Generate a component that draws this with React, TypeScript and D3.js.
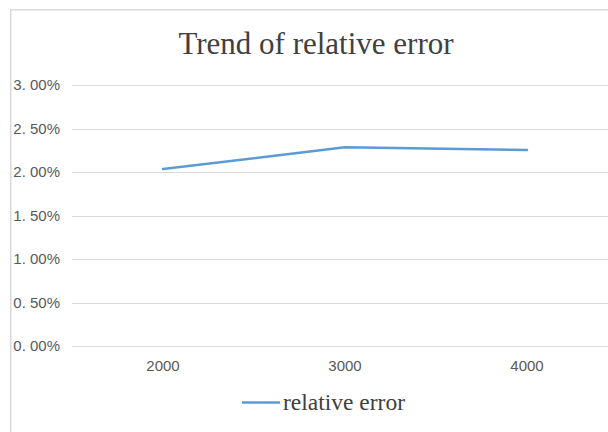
import React from "react";
import * as d3 from "d3";

const categories = ["2000", "3000", "4000"];
const relativeError = [0.02034, 0.02284, 0.02253];
const yTicks = [0, 0.005, 0.01, 0.015, 0.02, 0.025, 0.03];
const seriesName = "relative error";
const title = "Trend of relative error";

const W = 608;
const H = 432;

export default function App() {
  const x = d3.scaleBand<string>().domain(categories).range([72, 618]);
  const y = d3.scaleLinear().domain([0, 0.03]).range([346, 85]);
  const cx = (c: string) => (x(c) ?? 0) + x.bandwidth() / 2;
  const line = d3
    .line<number>()
    .x((_, i) => cx(categories[i]))
    .y((d) => y(d));
  const fmt = (v: number) => (v * 100).toFixed(2).replace(".", ". ") + "%";
  const grey = "#595959";
  return (
    <svg
      width={W}
      height={H}
      style={{ position: "absolute", left: 0, top: 0, background: "#fff" }}
    >
      <rect x={0} y={0} width={W} height={H} fill="#fff" />
      <rect
        x={10.75}
        y={9.75}
        width={W + 20}
        height={H + 20}
        fill="none"
        stroke="#D9D9D9"
        strokeWidth={1.5}
      />
      <text
        x={316}
        y={53.5}
        textAnchor="middle"
        fontFamily="'Liberation Serif', serif"
        fontSize={31}
        fill="#404040"
      >
        {title}
      </text>
      {yTicks.map((t) => (
        <g key={t}>
          <line
            x1={72}
            x2={618}
            y1={Math.round(y(t)) + 0.5}
            y2={Math.round(y(t)) + 0.5}
            stroke="#D9D9D9"
            strokeWidth={1}
          />
          <text
            x={60}
            y={y(t)}
            dy="0.35em"
            textAnchor="end"
            fontFamily="'Liberation Sans', sans-serif"
            fontSize={15}
            fill={grey}
          >
            {fmt(t)}
          </text>
        </g>
      ))}
      {categories.map((c) => (
        <text
          key={c}
          x={cx(c)}
          y={371}
          textAnchor="middle"
          fontFamily="'Liberation Sans', sans-serif"
          fontSize={15}
          fill={grey}
        >
          {c}
        </text>
      ))}
      <path
        d={line(relativeError) ?? ""}
        fill="none"
        stroke="#5B9BD5"
        strokeWidth={2.5}
        strokeLinejoin="round"
        strokeLinecap="round"
      />
      <line
        x1={242}
        x2={280}
        y1={402.5}
        y2={402.5}
        stroke="#5B9BD5"
        strokeWidth={2.5}
      />
      <text
        x={283}
        y={409.5}
        fontFamily="'Liberation Serif', serif"
        fontSize={23.5}
        fill="#404040"
      >
        {seriesName}
      </text>
    </svg>
  );
}
